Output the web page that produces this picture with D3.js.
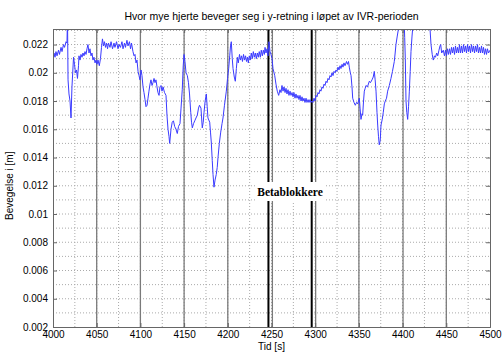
<!DOCTYPE html>
<html>
<head>
<meta charset="utf-8">
<script src="https://cdn.jsdelivr.net/npm/d3@7"></script>
<style>
  body { margin: 0; background: #fff; }
  text { font-family: "Liberation Sans", Arial, sans-serif; }
</style>
</head>
<body>
<div id="d3_div"></div>
<script>
// Data: time [s] and movement [m]
var tid = [4000,4001.1,4002.3,4003.4,4004.6,4006.3,4007.4,4009.2,4010.3,4012,4013.2,4014.9,4016,4016.6,4017.2,4018.3,4019.5,4020.6,4021.7,4023.5,4024.6,4025.7,4026.9,4028,4029.2,4029.7,
  4030.9,4032,4033.2,4034.3,4035.5,4036.6,4037.8,4038.9,4040,4041.2,4042.3,4043.5,4044.6,4045.8,4046.9,4048.1,4049.2,4050.3,4051.5,4053,4054.3,4055.5,4056.6,4057.8,4058.9,4060.1,4061.2,4062.4,4063.5,
  4065.2,4066.4,4068.1,4069.8,4070.9,4072.7,4074.4,4075.5,4077.2,4078.9,4080.1,4081.8,4082.9,4084.6,4085.8,4087.5,4088.7,4089.8,4091.5,4092.7,4093.8,4095,4096.1,4097.3,4098.4,4099.5,4100.7,4101.8,
  4103,4104.1,4105.3,4106.4,4107.6,4108.7,4109.8,4111,4112.1,4113.3,4114.4,4115.6,4116.7,4117.8,4119,4120.1,4121.3,4122.4,4123.6,4124.7,4125.9,4127.6,4129.3,4130.4,4131.6,4132.7,4133.5,4135,
  4136.4,4137.8,4139.2,4140.7,4142.2,4143.6,4145.3,4146.5,4147.9,4149,4149.9,4151,4152.2,4153.7,4155,4156.2,4157.6,4158.5,4159.4,4160.8,4162.2,4163.6,4165.1,4166.5,4167.6,4169.3,4170.8,4171.9,
  4172.8,4174.1,4175.4,4176.4,4177.3,4179.3,4180.2,4181.1,4182.2,4183.1,4184.2,4185.4,4186.8,4187.9,4188.8,4190.3,4191.9,4193.4,4194.5,4196.2,4198.3,4199.7,4201,4202.2,4203.1,4204,4205.1,4206,
  4207.4,4208.6,4209.8,4210.9,4212,4213.4,4214.5,4215.7,4216.8,4218,4219.1,4220.3,4221.4,4222.5,4223.5,4224.6,4225.7,4226.9,4228,4229.2,4230.3,4231.5,4232.6,4233.8,4234.9,4236,4237.2,4238.3,
  4239.5,4240.6,4241.8,4242.6,4243.7,4244.9,4246,4247.1,4248.3,4249.4,4250.6,4251.7,4253.7,4255.1,4256.6,4258.2,4259.7,4260.9,4262,4263.2,4264.3,4265.5,4266.6,4267.7,4268.9,4270,4271.2,4272.3,
  4273.5,4274.6,4275.7,4276.9,4278,4279.2,4280.3,4281.5,4282.6,4283.8,4284.9,4286,4287.2,4288.3,4289.5,4290.6,4291.8,4292.9,4294.1,4295.2,4296.3,4297.5,4298.6,4299.8,4300.9,4302.1,4303.2,4304.3,
  4305.5,4306.6,4307.8,4308.9,4310.1,4311.2,4312.4,4313.5,4314.6,4315.8,4316.9,4318.1,4319.2,4320.4,4321.5,4322.7,4323.8,4324.9,4326.1,4327.2,4328.4,4329.5,4330.7,4331.8,4332.9,4334.1,4335.8,
  4336.9,4338.1,4339,4340.2,4341,4342.1,4342.9,4344.4,4345.9,4347.3,4348.6,4349.5,4350.5,4351.3,4352.4,4353.6,4354.3,4355.3,4356.2,4357.2,4358.1,4359.8,4361.9,4363.2,4365,4366.4,4367.6,4368.6,
  4369.6,4370.7,4371.5,4372.4,4373.3,4374.4,4375.3,4376.7,4377.9,4379.1,4380.2,4381.6,4382.9,4384.8,4386.7,4388.4,4390.5,4391.5,4392.4,4393.9,4395.5,4397,4399.3,4401.6,4402.4,4403.1,4403.9,
  4404.8,4405.8,4406.8,4407.7,4408.7,4409.6,4410.8,4411.6,4413.1,4419.9,4427.9,4430.8,4431.4,4432.5,4433.9,4435.1,4436.5,4437.6,4439,4440.2,4441.6,4442.8,4443.6,4444.7,4446.6,4447.9,4449.1,
  4450.2,4451.4,4452.5,4453.7,4454.8,4456,4457.1,4458.2,4459.4,4460.5,4461.7,4462.8,4464,4465.1,4466.2,4467.4,4468.5,4469.7,4470.8,4472,4473.1,4474.3,4475.4,4476.5,4477.7,4478.8,4480,4481.1,
  4482.3,4483.4,4484.6,4485.7,4486.8,4488,4489.1,4490.3,4491.4,4492.6,4493.7,4494.9,4496,4497.1,4498.3,4500];

var bevegelse = [0.0209,0.0214,0.0211,0.0215,0.0212,0.0216,0.0213,0.0218,0.0215,0.0220,0.0218,0.0222,0.0221,0.0240,0.0195,0.0185,0.0180,0.0168,0.0190,0.0211,0.0206,0.0200,0.0202,0.0196,0.0205,0.0212,
  0.0209,0.0213,0.0211,0.0214,0.0212,0.0215,0.0213,0.0217,0.0220,0.0214,0.0217,0.0212,0.0214,0.0209,0.0211,0.0207,0.0209,0.0206,0.0209,0.0205,0.0210,0.0218,0.0224,0.0219,0.0222,0.0218,0.0221,0.0217,0.0221,
  0.0218,0.0222,0.0217,0.0221,0.0218,0.0222,0.0217,0.0220,0.0218,0.0222,0.0217,0.0221,0.0218,0.0223,0.0219,0.0222,0.0217,0.0221,0.0215,0.0212,0.0213,0.0207,0.0209,0.0201,0.0198,0.0195,0.0202,0.0198,
  0.0190,0.0186,0.0181,0.0176,0.0177,0.0182,0.0187,0.0192,0.0195,0.0191,0.0193,0.0196,0.0193,0.0195,0.0190,0.0186,0.0184,0.0190,0.0191,0.0187,0.0190,0.0186,0.0184,0.0170,0.0160,0.0155,0.0150,0.0160,
  0.0165,0.0166,0.0162,0.0160,0.0157,0.0162,0.0164,0.0175,0.0188,0.0205,0.0213,0.0208,0.0200,0.0198,0.0193,0.0185,0.0172,0.0165,0.0161,0.0164,0.0166,0.0168,0.0170,0.0175,0.0177,0.0175,0.0161,0.0165,
  0.0172,0.0180,0.0185,0.0176,0.0168,0.0165,0.0158,0.0151,0.0138,0.0128,0.0119,0.0124,0.0128,0.0133,0.0140,0.0150,0.0158,0.0164,0.0168,0.0177,0.0187,0.0196,0.0203,0.0212,0.0219,0.0222,0.0210,0.0203,
  0.0197,0.0194,0.0203,0.0211,0.0207,0.0213,0.0209,0.0212,0.0208,0.0213,0.0209,0.0212,0.0208,0.0211,0.0207,0.0212,0.0209,0.0214,0.0210,0.0215,0.0211,0.0214,0.0210,0.0214,0.0211,0.0215,0.0211,0.0216,
  0.0212,0.0216,0.0213,0.0218,0.0214,0.0217,0.0212,0.0222,0.0215,0.0213,0.0210,0.0203,0.0198,0.0192,0.0187,0.0184,0.0188,0.0186,0.0191,0.0187,0.0190,0.0186,0.0189,0.0185,0.0188,0.0184,0.0187,0.0184,
  0.0186,0.0183,0.0186,0.0182,0.0185,0.0182,0.0184,0.0181,0.0184,0.0180,0.0183,0.0180,0.0182,0.0179,0.0182,0.0179,0.0181,0.0179,0.0181,0.0179,0.0180,0.0179,0.0182,0.0180,0.0184,0.0183,0.0186,0.0185,
  0.0188,0.0187,0.0190,0.0189,0.0192,0.0191,0.0194,0.0193,0.0196,0.0195,0.0198,0.0197,0.0200,0.0198,0.0201,0.0200,0.0202,0.0201,0.0204,0.0202,0.0205,0.0203,0.0206,0.0204,0.0207,0.0205,0.0208,
  0.0206,0.0208,0.0204,0.0200,0.0198,0.0190,0.0182,0.0179,0.0177,0.0179,0.0178,0.0180,0.0182,0.0175,0.0167,0.0171,0.0170,0.0180,0.0187,0.0189,0.0191,0.0190,0.0194,0.0193,0.0195,0.0197,0.0201,0.0195,
  0.0187,0.0172,0.0163,0.0155,0.0149,0.0152,0.0163,0.0167,0.0172,0.0178,0.0180,0.0182,0.0187,0.0191,0.0196,0.0201,0.0208,0.0214,0.0220,0.0226,0.0232,0.0245,0.0250,0.0240,0.0225,0.0210,0.0180,
  0.0172,0.0167,0.0176,0.0187,0.0201,0.0215,0.0226,0.0232,0.0245,0.0255,0.0250,0.0235,0.0231,0.0220,0.0213,0.0209,0.0212,0.0211,0.0214,0.0212,0.0216,0.0219,0.0220,0.0214,0.0216,0.0212,0.0216,
  0.0212,0.0217,0.0213,0.0217,0.0213,0.0218,0.0214,0.0218,0.0213,0.0219,0.0214,0.0218,0.0214,0.0220,0.0214,0.0219,0.0214,0.0220,0.0215,0.0219,0.0214,0.0220,0.0215,0.0219,0.0214,0.0220,0.0215,0.0219,
  0.0214,0.0219,0.0215,0.0220,0.0214,0.0218,0.0214,0.0219,0.0214,0.0218,0.0213,0.0217,0.0213,0.0217,0.0214,0.0216];

// event markers
var graaLinjer = [4050, 4100, 4150, 4200, 4251, 4300.5, 4350, 4400.5, 4450];
var svarteLinjer = [4246.5, 4296];

var xTicks = [4000, 4050, 4100, 4150, 4200, 4250, 4300, 4350, 4400, 4450, 4500];
var yTicks = [0.002, 0.004, 0.006, 0.008, 0.01, 0.012, 0.014, 0.016, 0.018, 0.02, 0.022];
var yTickLabels = ["0.002", "0.004", "0.006", "0.008", "0.01", "0.012", "0.014", "0.016", "0.018", "0.02", "0.022"];
var xGrid = d3.range(4025, 4500, 25);
var yGrid = d3.range(0.003, 0.0231, 0.001);

var margin = {top: 29, right: 13, bottom: 26, left: 53},
    width = 503 - margin.left - margin.right,
    height = 353 - margin.top - margin.bottom;

var svg = d3.select("#d3_div")
  .append("svg")
    .attr("width", 503)
    .attr("height", 353)
  .append("g")
    .attr("transform", "translate(" + margin.left + "," + margin.top + ")");

var x = d3.scaleLinear().domain([4000, 4500]).range([0, width]);
var y = d3.scaleLinear().domain([0.002, 0.0231]).range([height, 0]);

svg.append("clipPath").attr("id", "clip")
  .append("rect").attr("width", width).attr("height", height);

// dotted grid
svg.append("g").selectAll("line").data(xGrid).enter().append("line")
  .attr("x1", function(d) { return x(d) }).attr("x2", function(d) { return x(d) })
  .attr("y1", 0).attr("y2", height)
  .attr("stroke", "#aaa").attr("stroke-dasharray", "1,2");
svg.append("g").selectAll("line").data(yGrid).enter().append("line")
  .attr("x1", 0).attr("x2", width)
  .attr("y1", function(d) { return y(d) }).attr("y2", function(d) { return y(d) })
  .attr("stroke", "#aaa").attr("stroke-dasharray", "1,2");

// vertical event lines
svg.append("g").selectAll("line").data(graaLinjer).enter().append("line")
  .attr("x1", function(d) { return x(d) }).attr("x2", function(d) { return x(d) })
  .attr("y1", 0).attr("y2", height)
  .attr("stroke", "#7a7a7a").attr("stroke-width", 1.3);
svg.append("g").selectAll("line").data(svarteLinjer).enter().append("line")
  .attr("x1", function(d) { return x(d) }).attr("x2", function(d) { return x(d) })
  .attr("y1", 0).attr("y2", height)
  .attr("stroke", "#000").attr("stroke-width", 2);

// the signal
var punkter = tid.map(function(t, i) { return {t: t, v: bevegelse[i]} });
svg.append("path")
  .datum(punkter)
  .attr("clip-path", "url(#clip)")
  .attr("fill", "none")
  .attr("stroke", "#3a3aff")
  .attr("stroke-width", 1)
  .attr("d", d3.line()
    .x(function(d) { return x(d.t) })
    .y(function(d) { return y(d.v) }));

// label box
var midt = (svarteLinjer[0] + svarteLinjer[1]) / 2;
svg.append("rect")
  .attr("x", x(midt) - 34).attr("y", y(0.0117) - 8)
  .attr("width", 68).attr("height", 19)
  .attr("fill", "#fff");
svg.append("text")
  .attr("x", x(midt)).attr("y", y(0.0117) + 6)
  .attr("text-anchor", "middle")
  .style("font-family", "'Liberation Serif', 'Times New Roman', serif")
  .style("font-weight", "bold")
  .style("font-size", "11.5px")
  .text("Betablokkere");

// axes, MATLAB style ticks pointing inwards
svg.append("g")
  .attr("transform", "translate(0," + height + ")")
  .call(d3.axisBottom(x).tickValues(xTicks).tickSize(-4).tickPadding(4).tickFormat(d3.format("d")));
svg.append("g")
  .call(d3.axisTop(x).tickValues(xTicks).tickSize(-4).tickFormat(""));
svg.append("g")
  .call(d3.axisLeft(y).tickValues(yTicks).tickSize(-4).tickPadding(5)
    .tickFormat(function(d, i) { return yTickLabels[i] }));
svg.append("g")
  .attr("transform", "translate(" + width + ",0)")
  .call(d3.axisRight(y).tickValues(yTicks).tickSize(-4).tickFormat(""));

svg.selectAll(".domain").attr("stroke", "#666");
svg.selectAll(".tick line").attr("stroke", "#666");
svg.selectAll(".tick text").style("font-size", "10px").attr("fill", "#000");

svg.append("text")
  .attr("x", width / 2).attr("y", -9)
  .attr("text-anchor", "middle")
  .style("font-size", "10.5px")
  .text("Hvor mye hjerte beveger seg i y-retning i løpet av IVR-perioden");

svg.append("text")
  .attr("x", width / 2).attr("y", height + 23)
  .attr("text-anchor", "middle")
  .style("font-size", "10px")
  .text("Tid [s]");

svg.append("text")
  .attr("transform", "rotate(-90)")
  .attr("x", -(y(0.012))).attr("y", -40)
  .attr("text-anchor", "middle")
  .style("font-size", "10px")
  .text("Bevegelse i [m]");
</script>
</body>
</html>
